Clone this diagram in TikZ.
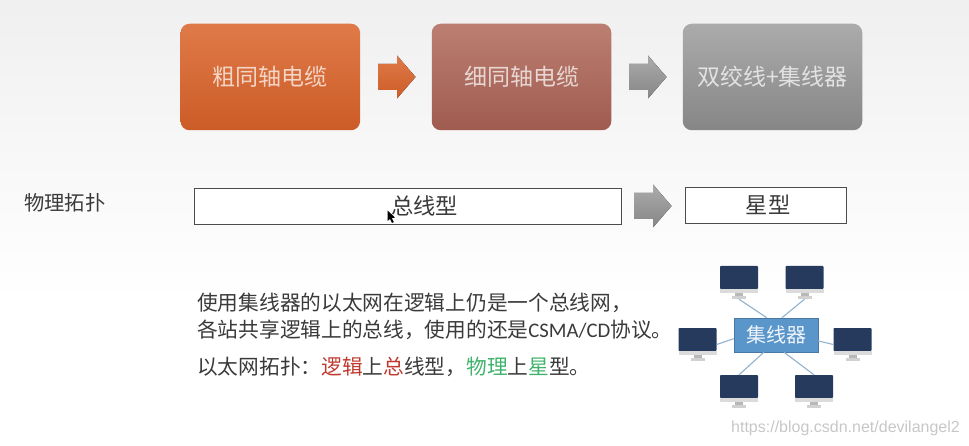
\documentclass[tikz,border=0pt]{standalone}
\usepackage{fontspec}
\setmainfont{Noto Sans CJK SC}
\newfontfamily\wmfont{Liberation Sans}
\newfontfamily\latfont{Carlito}
\definecolor{pcdark}{HTML}{263A5E}
\definecolor{hubblue}{HTML}{5B96CB}
\definecolor{linkblue}{HTML}{8FB2CF}
\definecolor{redtxt}{HTML}{C0392F}
\definecolor{greentxt}{HTML}{3FB36B}
\definecolor{inktxt}{HTML}{3A3A3A}
\definecolor{orange1}{HTML}{DF7A48}
\definecolor{orange2}{HTML}{CC5C27}
\definecolor{rose1}{HTML}{BB7F72}
\definecolor{rose2}{HTML}{A05B4F}
\definecolor{gray1}{HTML}{ABABAB}
\definecolor{gray2}{HTML}{868686}
\tikzset{
  x=1pt,y=-1pt,
  flow/.style={rounded corners=9pt,minimum width=179.5pt,minimum height=106.5pt,inner sep=0pt,
    font=\fontsize{23}{23}\selectfont,text=white,text opacity=.72},
  orangebox/.style={flow,top color=orange1,bottom color=orange2},
  rosebox/.style={flow,top color=rose1,bottom color=rose2},
  greybox/.style={flow,top color=gray1,bottom color=gray2},
  topo/.style={draw=black!70,line width=.9pt,fill=white,inner sep=0pt,minimum height=36pt,
    font=\fontsize{22.3}{22}\selectfont,text=inktxt},
  body/.style={anchor=west,inner sep=0pt,font=\fontsize{20.7}{21}\selectfont,text=inktxt},
  pcbox/.style={minimum width=38pt,minimum height=33pt,inner sep=0pt},
  link/.style={draw=linkblue,line width=1.1pt},
}
\newcommand{\flowarrow}[4]{% x, y-center, top colour, bottom colour
  \fill[top color=#3,bottom color=#4] (#1,#2-13) -- (#1+19,#2-13) -- (#1+19,#2-21.5)
    -- (#1+37.5,#2) -- (#1+19,#2+21.5) -- (#1+19,#2+13) -- (#1,#2+13) -- cycle;
}
\newcommand{\pcicon}[3]{% name, centre x, top y
  \node[pcbox] (#1) at (#2,#3+16.5) {};
  \fill[pcdark,rounded corners=.8pt] (#2-19,#3) rectangle (#2+19,#3+23);
  \fill[black!14] (#2-19,#3+23) rectangle (#2+19,#3+27);
  \fill[black!28] (#2-4,#3+27) rectangle (#2+4,#3+30);
  \fill[black!18] (#2-7,#3+30) rectangle (#2+7,#3+33);
}
\begin{document}
\begin{tikzpicture}
\useasboundingbox (0,0) rectangle (969,446);
\shade[top color=black!6,bottom color=white] (0,0) rectangle (969,300);
% top row
\node[orangebox,text depth=3pt] (thick) at (270.3,77) {粗同轴电缆};
\node[rosebox,text depth=3pt] (thin) at (521.5,77) {细同轴电缆};
\node[greybox,text depth=3pt] (twist) at (772.5,77) {双绞线+集线器};
\flowarrow{378}{77}{orange1}{orange2}
\flowarrow{629}{77}{gray1}{gray2}
% row 2
\node[anchor=west,inner sep=0pt,font=\fontsize{20.3}{20}\selectfont,text=inktxt] (phys) at (24,203) {物理拓扑};
\node[topo,minimum width=427pt] (bus) at (407.5,206) {\hspace*{34pt}总线型};
\flowarrow{634}{206}{gray1}{gray2}
\node[topo,minimum width=161pt] (star) at (765.5,205) {\hspace*{5pt}星型};
% cursor
\fill[black] (387.5,210.5) -- (387.5,221) -- (390,219) -- (392,223) -- (393.8,222) -- (391.8,218.2) -- (395,217.5) -- cycle;
% text
\node[body] (l1) at (197,303) {使用集线器的以太网在逻辑上仍是一个总线网，};
\node[body] (l2) at (197,330) {各站共享逻辑上的总线，使用的还是{\latfont CSMA/CD}协议。};
\node[body] (l3) at (197,367) {以太网拓扑：\textcolor{redtxt}{逻辑}上\textcolor{redtxt}{总}线型，\textcolor{greentxt}{物理}上\textcolor{greentxt}{星}型。};
% network
\pcicon{pc1}{739}{266}
\pcicon{pc2}{804.5}{266}
\pcicon{pc3}{697.5}{328}
\pcicon{pc4}{852.5}{328}
\pcicon{pc5}{739}{375}
\pcicon{pc6}{814}{375}
\node[fill=hubblue,draw=hubblue!80!black,line width=.5pt,minimum width=84pt,minimum height=34pt,inner sep=0pt,
  font=\fontsize{20}{20}\selectfont,text=white,text opacity=.9] (hub) at (776,335) {集线器};
\draw[link] (pc1.south) -- (hub.118);
\draw[link] (pc2.south) -- (hub.71);
\draw[link] (pc3.east) -- (hub.185);
\draw[link] (pc4.west) -- (hub.-8);
\draw[link] (pc5.north) -- (hub.235);
\draw[link] (pc6.north) -- (hub.-65);
% watermark
\node[anchor=east,inner sep=0pt,font=\wmfont\fontsize{16}{18}\selectfont,text=black!22] (wm) at (960,428) {https://blog.csdn.net/devilangel2};
\end{tikzpicture}
\end{document}
